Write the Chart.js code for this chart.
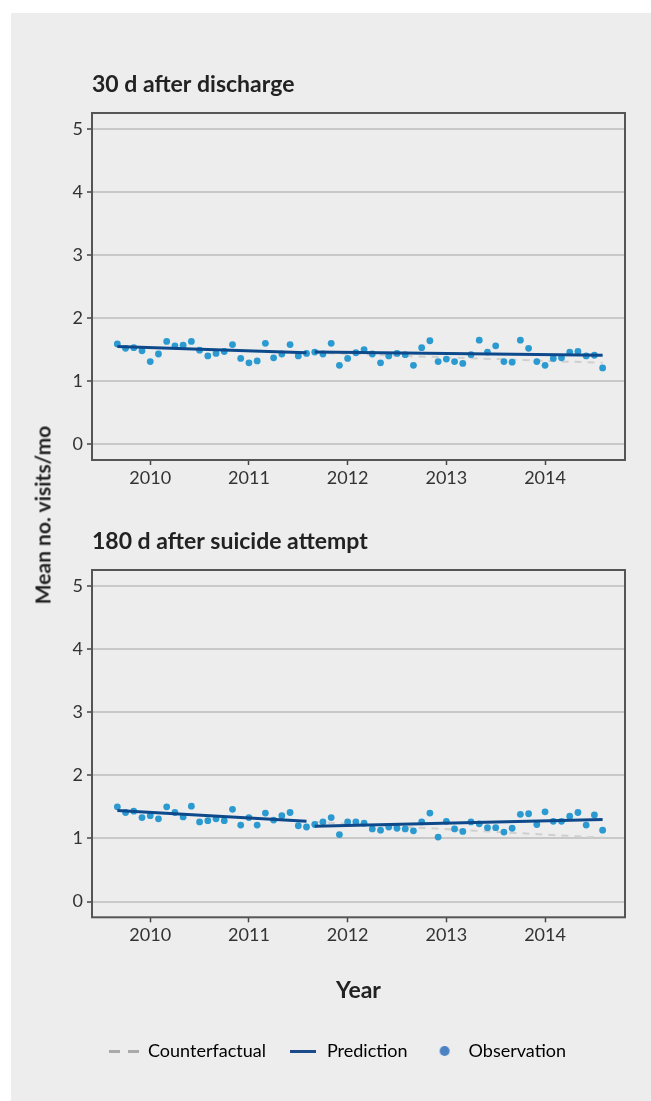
<!DOCTYPE html>
<html>
<head>
<meta charset="utf-8">
<script src="https://cdn.jsdelivr.net/npm/chart.js@4.4.1/dist/chart.umd.min.js"></script>
<style>
  body { margin: 0; width: 651px; height: 1101px; background: #fff; overflow: hidden; font-family: Lato, sans-serif; }
  #panel { position: absolute; left: 11px; top: 13px; width: 640px; height: 1088px; background: #ededed; }
  canvas { position: absolute; }
  #ylabel { position: absolute; left: 42px; top: 515px; transform: translate(-50%, -50%) rotate(-90deg);
            font: bold 21px Lato, sans-serif; color: #222; white-space: nowrap; }
</style>
</head>
<body>
<div id="panel"></div>
<canvas id="c1" width="590" height="424" style="left:50px;top:70.7px"></canvas>
<canvas id="c2" width="590" height="542" style="left:50px;top:527.7px"></canvas>
<div id="ylabel">Mean no. visits/mo</div>
<script>
// monthly series, Sep 2009 .. Aug 2014
const firstMonth = 2009 + 8 / 12;
const breakIndex = 24;            // first month after the change (Sep 2011)
const yearTicks = [2010, 2011, 2012, 2013, 2014];
const valueTicks = [0, 1, 2, 3, 4, 5];

const obs30 = [1.59, 1.52, 1.53, 1.48, 1.31, 1.43, 1.63, 1.56, 1.57, 1.63,
               1.49, 1.40, 1.44, 1.47, 1.58, 1.36, 1.29, 1.32, 1.60, 1.37,
               1.43, 1.58, 1.40, 1.44, 1.46, 1.43, 1.60, 1.25, 1.36, 1.45,
               1.50, 1.43, 1.29, 1.40, 1.44, 1.42, 1.25, 1.53, 1.64, 1.31,
               1.35, 1.31, 1.28, 1.42, 1.65, 1.46, 1.56, 1.31, 1.30, 1.65,
               1.52, 1.31, 1.25, 1.36, 1.37, 1.46, 1.47, 1.40, 1.41, 1.21];
const pre30 = [1.55, 1.45];
const post30 = [1.46, 1.41];
const cf30 = [1.45, 1.29];

const obs180 = [1.50, 1.41, 1.43, 1.33, 1.36, 1.31, 1.50, 1.41, 1.34, 1.51,
                1.26, 1.28, 1.31, 1.28, 1.46, 1.21, 1.33, 1.21, 1.40, 1.29,
                1.36, 1.41, 1.20, 1.18, 1.22, 1.26, 1.33, 1.06, 1.26, 1.26,
                1.24, 1.15, 1.13, 1.18, 1.16, 1.15, 1.12, 1.26, 1.40, 1.02,
                1.27, 1.15, 1.11, 1.26, 1.23, 1.17, 1.17, 1.10, 1.16, 1.38,
                1.39, 1.22, 1.42, 1.27, 1.27, 1.35, 1.41, 1.21, 1.37, 1.13];
const pre180 = [1.44, 1.27];
const post180 = [1.19, 1.30];
const cf180 = [1.26, 1.01];

const seriesNames = ['Counterfactual', 'Prediction', 'Observation'];

const month = i => firstMonth + i / 12;
const lastIndex = obs30.length - 1;

Chart.defaults.font.family = 'Lato, sans-serif';
Chart.defaults.color = '#333';

const frame = {
  id: 'frame',
  afterDraw(chart) {
    const a = chart.chartArea, ctx = chart.ctx;
    ctx.save();
    ctx.strokeStyle = '#555';
    ctx.lineWidth = 2;
    ctx.strokeRect(a.left, a.top, a.right - a.left, a.bottom - a.top);
    ctx.restore();
  }
};

function swatch(w, h, draw) {
  const c = document.createElement('canvas');
  c.width = w; c.height = h;
  draw(c.getContext('2d'));
  return c;
}
const swatches = [
  swatch(30, 4, g => { g.fillStyle = '#aaa'; g.fillRect(0, 1, 11, 3); g.fillRect(19, 1, 11, 3); }),
  swatch(26, 4, g => { g.fillStyle = '#1b4b8a'; g.fillRect(0, 1, 26, 3); }),
  swatch(12, 12, g => { g.fillStyle = '#4a82c3'; g.beginPath(); g.arc(6, 6, 5, 0, Math.PI * 2); g.fill(); })
];

function makeChart(id, title, obs, pre, post, cf, bottom) {
  new Chart(document.getElementById(id), {
    type: 'scatter',
    data: {
      datasets: [
        { label: seriesNames[1], order: 0, showLine: true, pointRadius: 0,
          borderColor: '#0e4a8b', borderWidth: 3,
          data: [{ x: month(0), y: pre[0] }, { x: month(breakIndex - 1), y: pre[1] }] },
        { label: seriesNames[1], order: 0, showLine: true, pointRadius: 0,
          borderColor: '#0e4a8b', borderWidth: 3,
          data: [{ x: month(breakIndex), y: post[0] }, { x: month(lastIndex), y: post[1] }] },
        { label: seriesNames[2], order: 1, pointRadius: 3.4, pointBorderWidth: 0,
          backgroundColor: '#2b9ad1', borderColor: '#2b9ad1',
          data: obs.map((v, i) => ({ x: month(i), y: v })) },
        { label: seriesNames[0], order: 2, showLine: true, pointRadius: 0,
          borderColor: '#cfcfcf', borderWidth: 2, borderDash: [7, 6],
          data: [{ x: month(breakIndex), y: cf[0] }, { x: month(lastIndex), y: cf[1] }] }
      ]
    },
    options: {
      responsive: false,
      animation: false,
      layout: { padding: { left: 0, right: 15, top: 0, bottom: 0 } },
      plugins: {
        tooltip: { enabled: false },
        title: {
          display: true, text: title, align: 'start', fullSize: false, color: '#222',
          font: { size: 23, weight: 'bold' }, padding: { top: 0, bottom: 14.4 }
        },
        legend: {
          display: bottom, position: 'bottom',
          labels: {
            usePointStyle: true, pointStyleWidth: 30, padding: 22, color: '#333',
            font: { size: 18 },
            generateLabels: () => seriesNames.map((n, i) => ({
              text: n, pointStyle: swatches[i], lineWidth: 0, fillStyle: 'transparent', strokeStyle: 'transparent'
            }))
          }
        }
      },
      scales: {
        x: {
          type: 'linear', min: 2009.41, max: 2014.81,
          afterBuildTicks: s => { s.ticks = yearTicks.map(v => ({ value: v })); },
          afterFit: s => { s.height = bottom ? 102.7 : 35; },
          border: { display: false },
          grid: { drawOnChartArea: false, drawTicks: true, tickLength: 5, tickColor: '#444', tickWidth: 1.5 },
          ticks: { padding: 2, font: { size: 18 }, color: '#333', maxRotation: 0, callback: v => String(v) },
          title: {
            display: bottom, text: 'Year', color: '#222',
            font: { size: 23, weight: 'bold' }, padding: { top: 0, bottom: 16 }
          }
        },
        y: {
          min: -0.25, max: 5.25,
          afterBuildTicks: s => { s.ticks = valueTicks.map(v => ({ value: v })); },
          afterFit: s => { s.width = 42; },
          border: { display: false },
          grid: { color: '#c8c8c8', lineWidth: 2, tickLength: 5, tickColor: '#444', tickWidth: 1.5 },
          ticks: { padding: 4, font: { size: 18 }, color: '#333' }
        }
      }
    },
    plugins: [frame]
  });
}

makeChart('c1', '30 d after discharge', obs30, pre30, post30, cf30, false);
makeChart('c2', '180 d after suicide attempt', obs180, pre180, post180, cf180, true);
</script>
</body>
</html>
